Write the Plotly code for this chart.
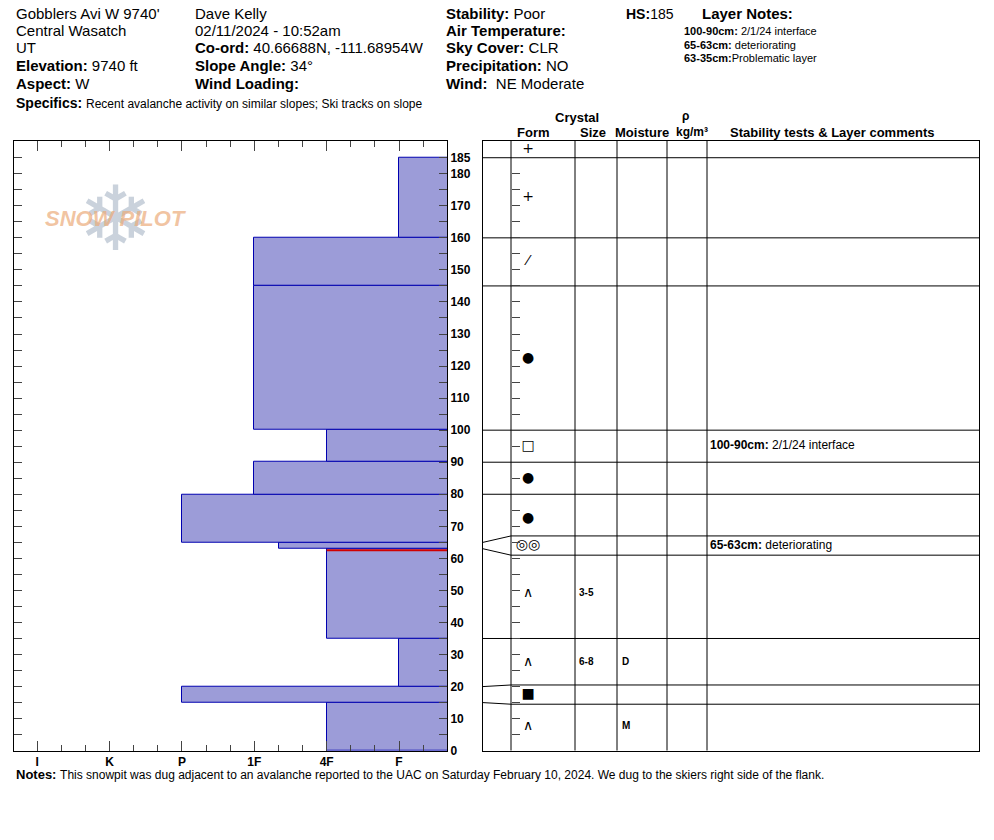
import plotly.graph_objects as go

W, H = 994, 824
# ---- data ----
bottoms = [0, 15, 20, 35, 63, 65, 80, 90, 100, 145, 160]
tops    = [15, 20, 35, 63, 65, 80, 90, 100, 145, 160, 185]
hardness = [2, 4, 1, 2, 2.66, 4, 3, 2, 3, 3, 1]   # F=1,4F=2,1F=3,P=4,K=5,I=6
forms = ["∧", "■", "∧", "∧", "◎◎", "●", "●", "□", "●", "⁄", "+"]
sizes = ["", "", "6-8", "3-5", "", "", "", "", "", "", ""]
moist = ["M", "", "D", "", "", "", "", "", "", "", ""]
surface_form = "+"
hs = 185
concern_depth = 62.5
comments = [(95, "100-90cm:", " 2/1/24 interface"), (64, "65-63cm:", " deteriorating")]
hard_labels = ["I", "K", "P", "1F", "4F", "F"]
hard_vals = [6, 5, 4, 3, 2, 1]
depth_ticks = list(range(0, 190, 10)) + [185]

FONT = "Liberation Sans, Arial"
YMAX = 190.3
OFF = 8

def px(x): return (x - OFF) / W
def py(y):
    y = (y + 0.68) / 0.9916
    return 1 - (y - OFF) / H

fig = go.Figure()
mids = [(b + t) / 2 for b, t in zip(bottoms, tops)]
thick = [t - b for b, t in zip(bottoms, tops)]
fig.add_trace(go.Bar(orientation="h", y=mids, x=hardness, width=thick, base=0,
                     marker=dict(color="#9c9cd8", line=dict(color="#0000b0", width=1)),
                     xaxis="x", yaxis="y", showlegend=False, hoverinfo="skip"))
fig.add_trace(go.Scatter(x=[2, 0.337], y=[concern_depth] * 2, mode="lines",
                         line=dict(color="#d00000", width=2), xaxis="x", yaxis="y",
                         showlegend=False))

disp = []
for b, t in zip(bottoms, tops):
    if t - b < 6:
        c = (b + t) / 2
        disp.append((c - 3, c + 3))
    else:
        disp.append((b, t))
real_bounds = sorted(set(bottoms[1:] + tops))
for rb in real_bounds:
    d = rb
    for (b, t), (db, dt) in zip(zip(bottoms, tops), disp):
        if t - b < 6:
            if rb == t: d = dt
            if rb == b: d = db
    fig.add_trace(go.Scatter(x=[0, 28, 496], y=[rb, d, d], mode="lines",
                             line=dict(color="black", width=1), xaxis="x2", yaxis="y2",
                             showlegend=False, hoverinfo="skip"))

dmid = [(a + b) / 2 for a, b in disp]
fig.add_trace(go.Scatter(x=[45] * len(forms) + [45], y=dmid + [(hs + YMAX) / 2],
                         text=forms + [surface_form], mode="text",
                         textfont=dict(size=14, color="black", family="DejaVu Sans"),
                         xaxis="x2", yaxis="y2", showlegend=False))
fig.add_trace(go.Scatter(x=[96] * len(sizes), y=dmid, text=[f"<b>{s}</b>" for s in sizes],
                         mode="text", textposition="middle right",
                         textfont=dict(size=10, color="black", family="Arial"),
                         xaxis="x2", yaxis="y2", showlegend=False))
fig.add_trace(go.Scatter(x=[139] * len(moist), y=dmid, text=[f"<b>{m}</b>" for m in moist],
                         mode="text", textposition="middle right",
                         textfont=dict(size=10, color="black", family="Arial"),
                         xaxis="x2", yaxis="y2", showlegend=False))
fig.add_trace(go.Scatter(x=[227] * len(comments), y=[c[0] for c in comments],
                         text=[f"<b>{c[1]}</b>{c[2]}" for c in comments], mode="text",
                         textposition="middle right",
                         textfont=dict(size=12, color="black", family=FONT),
                         xaxis="x2", yaxis="y2", showlegend=False))

shapes = []
for cx in [28, 92, 134, 184, 224]:
    shapes.append(dict(type="line", xref="x2", yref="y2", x0=cx, x1=cx, y0=0, y1=YMAX,
                       line=dict(color="black", width=1)))

fig.update_layout(
    width=W, height=H, margin=dict(l=0, r=0, t=0, b=0),
    paper_bgcolor="white", plot_bgcolor="white", bargap=0,
    shapes=shapes,
    xaxis=dict(domain=[px(14), px(447)], range=[6.32, 0.337], tickvals=hard_vals,
               ticktext=[f"<b>{t}</b>" for t in hard_labels], ticks="inside", ticklen=10,
               mirror="ticks", showline=True, linecolor="black", showgrid=False,
               zeroline=False, minor=dict(dtick=1/3, ticks="inside", ticklen=6, tick0=0),
               tickfont=dict(size=12, family="Liberation Sans", color="black"),
               anchor="y", fixedrange=True),
    yaxis=dict(domain=[py(750), py(140)], range=[0, YMAX], side="right",
               tickvals=depth_ticks, ticktext=[f"<b>{v}</b>" for v in depth_ticks],
               ticks="inside", ticklen=8,
               mirror="ticks", showline=True, linecolor="black", showgrid=False,
               zeroline=False, minor=dict(dtick=5, ticks="inside", ticklen=8),
               tickfont=dict(size=12, family="Liberation Sans", color="black"),
               anchor="x"),
    xaxis2=dict(domain=[px(483), px(979)], range=[0, 496], showticklabels=False,
                showgrid=False, zeroline=False, showline=True, mirror=True,
                linecolor="black", ticks="", anchor="y2"),
    yaxis2=dict(domain=[py(750), py(140)], range=[0, YMAX], showticklabels=False,
                showgrid=False, zeroline=False, showline=True, mirror=True,
                linecolor="black", ticks="", anchor="x2"),
    yaxis3=dict(domain=[py(750), py(140)], range=[0, YMAX], overlaying="y2",
                anchor="free", position=px(511), side="left", ticks="inside",
                ticklen=8, dtick=5, showticklabels=False, showline=False,
                showgrid=False, zeroline=False),
)
fig.add_trace(go.Scatter(x=[0], y=[0], xaxis="x2", yaxis="y3", mode="markers",
                         marker=dict(opacity=0), showlegend=False, hoverinfo="skip"))

def ann(x, y, text, size=15, anchor="left", family=FONT, color="black"):
    fig.add_annotation(x=px(x), y=py(y), xref="paper", yref="paper", text=text,
                       showarrow=False, xanchor=anchor, yanchor="middle",
                       font=dict(size=size, family=family, color=color))

rows = [13, 30, 47, 65, 83]
col1 = ["Gobblers Avi W 9740'", "Central Wasatch", "UT", "<b>Elevation:</b> 9740 ft", "<b>Aspect:</b> W"]
col2 = ["Dave Kelly", "02/11/2024 - 10:52am", "<b>Co-ord:</b> 40.66688N, -111.68954W",
        "<b>Slope Angle:</b> 34°", "<b>Wind Loading:</b>"]
col3 = ["<b>Stability:</b> Poor", "<b>Air Temperature:</b>", "<b>Sky Cover:</b> CLR",
        "<b>Precipitation:</b> NO", "<b>Wind:</b>  NE Moderate"]
for r, a, b, c in zip(rows, col1, col2, col3):
    ann(14, r, a); ann(193, r, b); ann(444, r, c)
ann(624, 13, f"<b>HS:</b>{hs}", 14)
ann(700, 13, "<b>Layer Notes:</b>")
for y, t in [(30, "<b>100-90cm:</b> 2/1/24 interface"), (44, "<b>65-63cm:</b> deteriorating"),
             (57, "<b>63-35cm:</b>Problematic layer")]:
    ann(682, y, t, size=11)
ann(14, 102, "<b>Specifics:</b> <span style='font-size:12px'>Recent avalanche activity on similar slopes; Ski tracks on slope</span>", 14)
ann(14, 774, "<b>Notes:</b> <span style='font-size:12px'>This snowpit was dug adjacent to an avalanche reported to the UAC on Saturday February 10, 2024. We dug to the skiers right side of the flank.</span>", size=13)
ann(577, 117, "<b>Crystal</b>", 13, "center")
ann(533, 132, "<b>Form</b>", 13, "center")
ann(593, 132, "<b>Size</b>", 13, "center")
ann(642, 132, "<b>Moisture</b>", 13, "center")
ann(685, 115, "<b>ρ</b>", 12, "center")
ann(692, 131, "<b>kg/m³</b>", 12, "center")
ann(832, 132, "<b>Stability tests & Layer comments</b>", 13, "center")
ann(115, 218, "❄", 90, "center", "DejaVu Sans", "rgba(150,165,185,0.5)")
ann(115, 218, "<b><i>SNOW PILOT</i></b>", 22, "center", "Liberation Sans", "rgba(235,170,120,0.7)")

fig.write_html("out.html")
